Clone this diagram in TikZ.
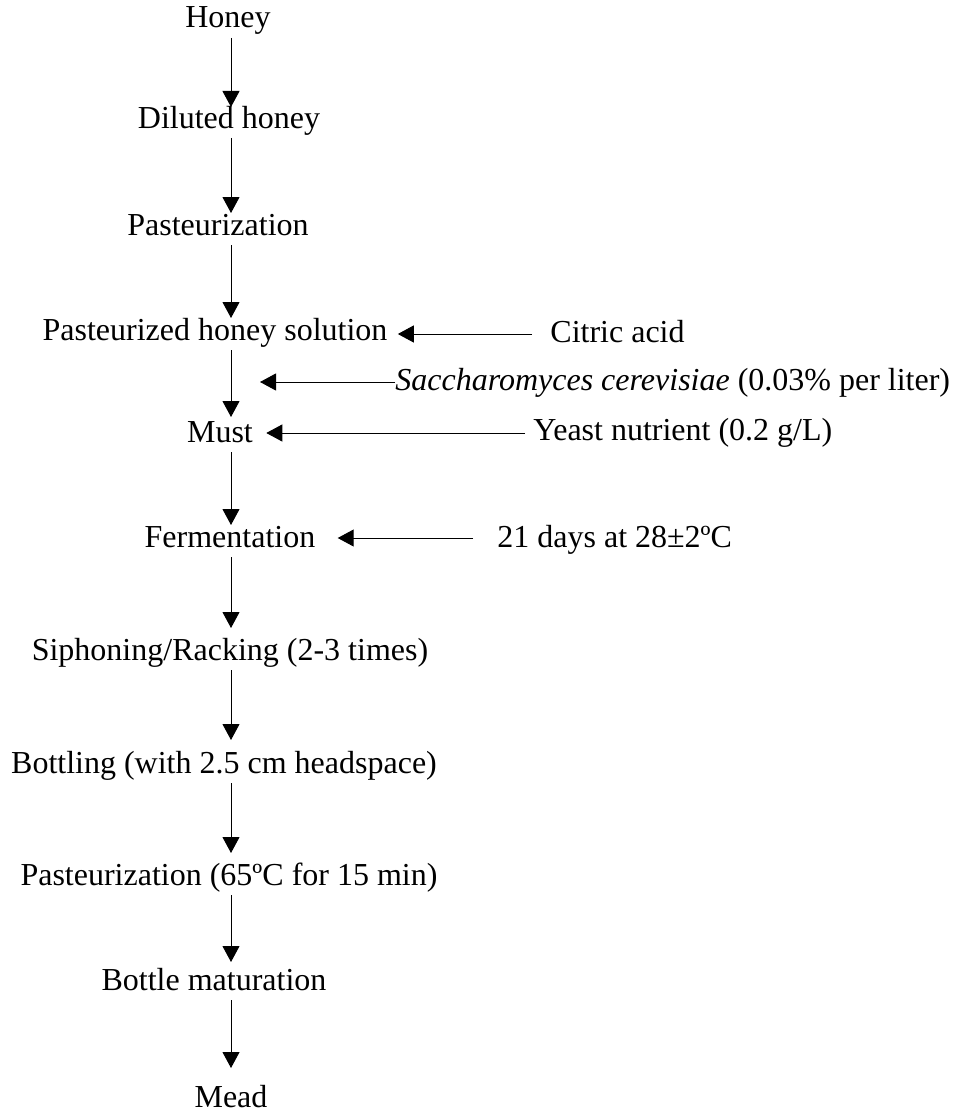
\documentclass[tikz,border=0pt]{standalone}
\usepackage{fontspec}
\setmainfont{Liberation Serif}
\usetikzlibrary{arrows.meta,calc}

\begin{document}
\begin{tikzpicture}[x=0.5pt,y=-0.5pt,
    stage/.style={anchor=base,inner sep=0pt,font=\fontsize{16}{19}\selectfont},
    input/.style={anchor=base west,inner sep=0pt,font=\fontsize{16}{19}\selectfont},
    flow/.style={-{Triangle[width=8.5pt,length=8pt]},line width=0.5pt}]
  \useasboundingbox (0,0) rectangle (965,1113);
  \coordinate (spine) at (231,0);

  \node[stage] (honey) at (228,28) {Honey};
  \node[stage] (diluted) at (229,128) {Diluted honey};
  \node[stage] (past) at (218,235) {Pasteurization};
  \node[stage] (solution) at (215,340) {Pasteurized honey solution};
  \node[stage] (must) at (220,442) {Must};
  \node[stage] (ferm) at (230,547) {Fermentation};
  \node[stage] (rack) at (230,660) {Siphoning/Racking (2-3 times)};
  \node[stage] (bottling) at (224,773) {Bottling (with 2.5 cm headspace)};
  \node[stage] (pastb) at (229,885) {Pasteurization (65ºC for 15 min)};
  \node[stage] (mature) at (214,990) {Bottle maturation};
  \node[stage] (mead) at (231,1107) {Mead};

  \node[input] (citric) at (550,342) {Citric acid};
  \node[input] (yeast) at (395,390) {\textit{Saccharomyces cerevisiae} (0.03\% per liter)};
  \node[input] (nutrient) at (533,440) {Yeast nutrient (0.2 g/L)};
  \node[input] (temp) at (497,547) {21 days at 28±2ºC};

  \foreach \a/\b/\g in {honey/diluted/21, diluted/past/22, past/solution/22,
      solution/must/25, must/ferm/22, ferm/rack/32, rack/bottling/33,
      bottling/pastb/32, pastb/mature/28, mature/mead/39}
    \draw[flow] ($(\a.base -| spine)+(0,10)$) -- ($(\b.base -| spine)+(0,-\g)$);

  \draw[flow] ($(citric.base west)+(-18,-8)$) -- ($(solution.base east |- citric.base)+(10,-8)$);
  \draw[flow] ($(yeast.base west)+(0,-8)$) -- ($(spine |- yeast.base)+(29,-8)$);
  \draw[flow] ($(nutrient.base west)+(-8,-7)$) -- ($(must.base east |- nutrient.base)+(13,-7)$);
  \draw[flow] ($(temp.base west)+(-24,-9)$) -- ($(ferm.base east |- temp.base)+(22,-9)$);
\end{tikzpicture}
\end{document}
